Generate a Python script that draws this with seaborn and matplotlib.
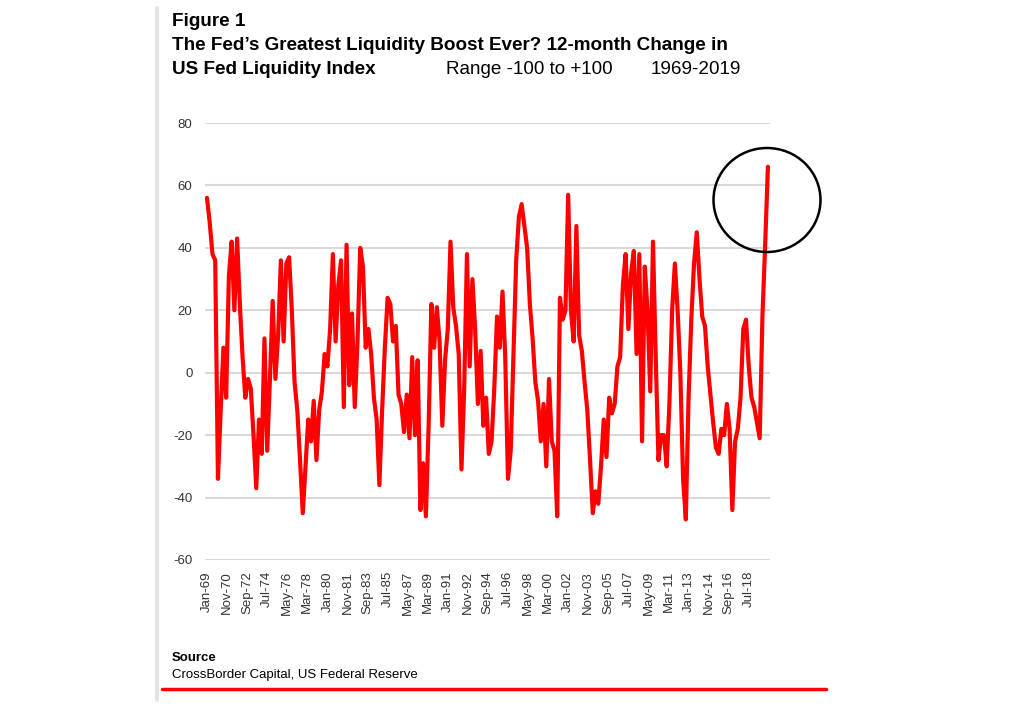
import matplotlib
matplotlib.use('Agg')
import pandas as pd
import matplotlib.pyplot as plt
from matplotlib.patches import Ellipse
from matplotlib.lines import Line2D
import seaborn as sns

# 12-month change in the US Fed Liquidity Index
# one value per quarter, starting Jan-69
valores = [
    56, 48, 38, 36, -34, -12, 8, -8, 31, 42,
    20, 43, 22, 5, -8, -2, -5, -20, -37, -15,
    -26, 11, -25, -2, 23, -2, 12, 36, 10, 35,
    37, 20, -3, -12, -28, -45, -30, -15, -22, -9,
    -28, -12, -6, 6, 2, 14, 38, 10, 28, 36,
    -11, 41, -4, 19, -11, 10, 40, 34, 8, 14,
    6, -8, -15, -36, -12, 8, 24, 22, 10, 15,
    -7, -10, -19, -7, -21, 5, -20, 4, -44, -29,
    -46, -17, 22, 8, 21, 10, -17, 4, 14, 42,
    21, 15, 6, -31, -5, 38, 2, 30, 14, -10,
    7, -17, -8, -26, -22, -5, 18, 8, 26, 5,
    -34, -25, 5, 36, 50, 54, 47, 40, 22, 11,
    -3, -9, -22, -10, -30, -2, -22, -25, -46, 24,
    17, 20, 57, 20, 10, 47, 12, 7, -3, -12,
    -28, -45, -38, -42, -30, -15, -27, -8, -13, -10,
    2, 5, 28, 38, 14, 32, 39, 6, 38, -22,
    34, 20, -6, 42, 5, -28, -20, -20, -30, -10,
    20, 35, 20, 0, -34, -47, -8, 17, 35, 45,
    30, 18, 15, 2, -7, -16, -24, -26, -18, -20,
    -10, -18, -44, -22, -18, -8, 14, 17, 2, -8,
    -11, -16, -21, 18, 41, 66,
]
# months since Jan-69
meses = [3 * i for i in range(len(valores))]

rotulos_x = ['Jan-69', 'Nov-70', 'Sep-72', 'Jul-74', 'May-76', 'Mar-78', 'Jan-80',
             'Nov-81', 'Sep-83', 'Jul-85', 'May-87', 'Mar-89', 'Jan-91', 'Nov-92',
             'Sep-94', 'Jul-96', 'May-98', 'Mar-00', 'Jan-02', 'Nov-03', 'Sep-05',
             'Jul-07', 'May-09', 'Mar-11', 'Jan-13', 'Nov-14', 'Sep-16', 'Jul-18']
pos_x = [22 * i for i in range(len(rotulos_x))]
ticks_y = [-60, -40, -20, 0, 20, 40, 60, 80]

sns.set_style('white')
plt.rcParams['font.family'] = ['Liberation Sans', 'DejaVu Sans']
plt.rcParams['axes.unicode_minus'] = False
plt.rcParams['text.color'] = 'black'

W, H = 1024, 709
fig = plt.figure(figsize=(W / 100, H / 100), dpi=100)
ax = fig.add_axes([205 / W, 1 - 560 / H, 565 / W, 437 / H])

df = pd.DataFrame({'mes': meses, 'valor': valores})
sns.lineplot(data=df, x='mes', y='valor', color='#ff0000', linewidth=3, ax=ax)

ax.set_xlim(-2.2, 617.3)
ax.set_ylim(-60, 80)
ax.set_yticks(ticks_y)
ax.set_xticks(pos_x)
ax.set_xticklabels(rotulos_x, rotation=90, fontsize=9.5, color='#333333')
ax.tick_params(axis='y', labelsize=9.5, labelcolor='#333333', length=0, pad=9)
ax.tick_params(axis='x', length=0, pad=8)
ax.set_xlabel('')
ax.set_ylabel('')
ax.yaxis.grid(True, color='#d9d9d9', linewidth=1.5)
ax.xaxis.grid(False)
ax.set_axisbelow(True)
for s in ax.spines.values():
    s.set_visible(False)

# titles
tam = 13.6
fig.text(172 / W, 1 - 22 / H, 'Figure 1', fontsize=tam, fontweight='bold', va='center')
fig.text(172 / W, 1 - 46 / H, 'The Fed\u2019s Greatest Liquidity Boost Ever? 12-month Change in',
         fontsize=tam, fontweight='bold', va='center')
fig.text(172 / W, 1 - 70 / H, 'US Fed Liquidity Index', fontsize=tam, fontweight='bold', va='center')
fig.text(446 / W, 1 - 70 / H, 'Range -100 to +100', fontsize=tam, va='center')
fig.text(651 / W, 1 - 70 / H, '1969-2019', fontsize=tam, va='center')

# source
fig.text(172 / W, 1 - 658 / H, 'Source', fontsize=9.5, fontweight='bold', va='center')
fig.text(172 / W, 1 - 675 / H, 'CrossBorder Capital, US Federal Reserve', fontsize=9.5, va='center')

# circle around the last reading
fig.add_artist(Ellipse((767 / W, 1 - 200 / H), 107 / W, 104 / H, transform=fig.transFigure,
                       fill=False, edgecolor='black', linewidth=1.8))
# page decorations
fig.add_artist(Line2D([157 / W, 157 / W], [1 - 700 / H, 1 - 8 / H], transform=fig.transFigure,
                      color='#e4e4e4', linewidth=3))
fig.add_artist(Line2D([162 / W, 826 / W], [1 - 689 / H, 1 - 689 / H], transform=fig.transFigure,
                      color='#ff0000', linewidth=2.5))

fig.savefig('out.png', dpi=100)
